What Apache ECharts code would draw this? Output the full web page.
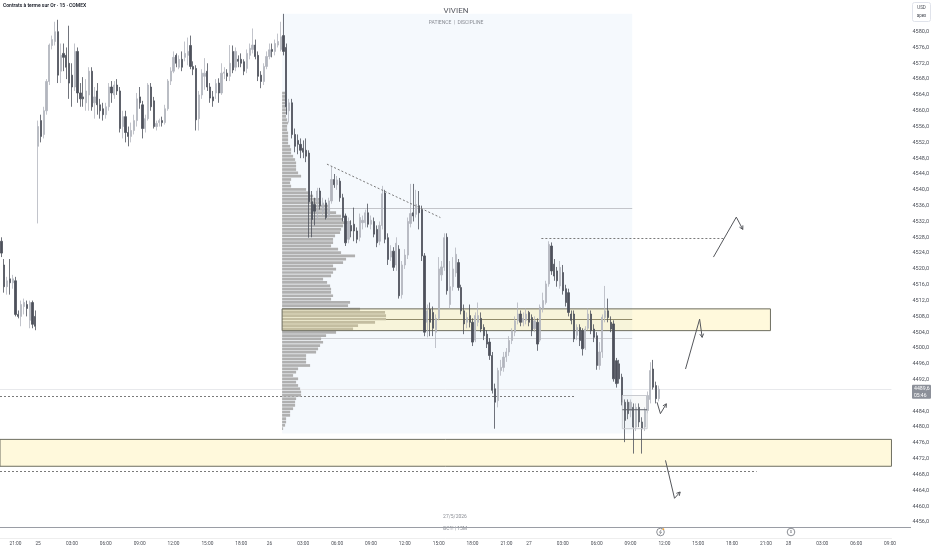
<!DOCTYPE html>
<html><head><meta charset="utf-8">
<script src="https://cdn.jsdelivr.net/npm/echarts@6/dist/echarts.min.js"></script>
<style>html,body{margin:0;padding:0;background:#fff}#c{width:932px;height:550px}</style>
</head><body><div id="c"></div>
<script>
// ---- time axis: trading sessions [day, startHour, startMinute, number of 15-min bars]
const sessions = [['22',19,45,13],['25',0,0,82],['26',0,0,92],['27',0,0,92],['28',0,0,37]];

// ---- candles [open, high, low, close]
const fri22 = [
[4527,4528,4523,4524],[4521,4522.5,4514,4515.5],[4515.5,4518,4513.5,4517],[4517.5,4522.5,4513.5,4516.5],
[4516.5,4518.5,4515,4517.5],[4517,4518,4508,4508.5],[4508.5,4509.5,4507.5,4508],[4508,4512,4505.5,4511],
[4510.5,4512.5,4508.5,4511.5],[4511,4512,4508,4510],[4507,4512,4505,4511.5],[4511.5,4512,4505,4506],
[4508,4509.5,4504.5,4505.5]];
const mon25 = [
[4551,4557.5,4531.5,4556],[4557.5,4559,4552,4553.5],[4554,4561,4553,4560],[4560,4568,4559,4567.4],
[4567.4,4577,4566.5,4576.6],[4576.5,4579,4575.5,4578],[4577.5,4582.5,4576.5,4580],[4580,4583,4567,4569],
[4570,4577,4567,4574],[4574.5,4577,4570,4573.5],[4574,4576,4568,4571],[4572,4581.5,4563,4567],
[4569,4572,4561,4566],[4566,4577,4565,4575],[4575,4576,4562,4564.5],[4564.5,4567,4561,4563],
[4563.5,4568.5,4561,4563],[4562,4568,4560,4565],[4564,4571,4560,4570],[4570,4571,4560,4561],
[4562,4566,4558,4563.5],[4565,4567,4559,4561.5],[4561.5,4563,4558,4560],[4560.5,4562,4557.5,4559],
[4559,4562,4558,4561],[4561,4567,4560,4566],[4566,4567.5,4562,4564.5],[4564,4567.5,4563,4566.5],
[4566.5,4568,4564,4565],[4565,4566,4554.5,4555.5],[4556,4560,4553,4558.5],[4558.5,4560,4552,4554.5],
[4554.5,4556,4551,4553.5],[4553.5,4557,4552,4555],[4555,4559,4554,4557.5],[4557.5,4564.5,4556,4563],
[4563.5,4566,4560.5,4562],[4561.5,4562.5,4553,4555.5],[4555.5,4559,4554.5,4558],[4558,4567,4557.5,4566.5],
[4566,4567,4560,4561],[4562.5,4563.5,4555.5,4556],[4556,4557.5,4555,4556.8],[4557,4558,4556,4557.5],
[4557.5,4558.5,4556,4557],[4557,4561.5,4556.5,4560.5],[4560.5,4568,4560,4567.5],[4567.5,4571,4566.5,4570],
[4570,4575,4569.5,4573.5],[4574,4574.5,4571,4572],[4571,4574,4570.5,4573],[4573,4575,4570,4571],
[4573.5,4577.5,4572.5,4574.5],[4574,4578.5,4571.5,4575],[4576.5,4579,4570.5,4571.2],[4571.2,4572.5,4569,4570.5],
[4570.7,4571.5,4555,4557.7],[4558,4565,4555,4564],[4564,4570.5,4563,4569.5],[4568.7,4573.3,4565.3,4569.5],
[4570,4572,4565,4566],[4566,4567,4562,4563.2],[4563.5,4565,4561,4562.5],[4564.5,4568,4563,4566.9],
[4567,4568.2,4562,4564.5],[4564.5,4572,4564,4569.5],[4569.5,4571,4568,4569.8],[4569.5,4570.5,4567.5,4568.7],
[4568.7,4576.6,4567.5,4572],[4575,4576.5,4569.5,4570.3],[4571,4576,4570,4575],[4573,4574,4571,4572.5],
[4573,4574.5,4571,4572],[4572.4,4573,4569,4570],[4570.7,4575.5,4569.5,4574.5],[4574,4577,4573,4575.8],
[4575.5,4580.8,4574.5,4576.6],[4576.6,4578,4573,4573.7],[4574,4575,4567.5,4568.7],[4569,4570,4565.7,4567.4],
[4567.4,4572,4566.5,4571.2],[4571.2,4575,4570.5,4573.7]];
const tue26 = [
[4573.7,4577,4573,4575.4],[4575.5,4577,4573.5,4575],[4575,4578,4574,4577],[4576.6,4579.5,4576,4577.5],
[4575.5,4582.5,4575,4578.7],[4579,4584.5,4574,4575],[4576,4577,4559,4561],[4560,4563,4557,4562],
[4562,4563,4553,4554],[4554,4555.5,4549.5,4551],[4552.5,4554,4549,4551.5],[4551.5,4553,4548,4550],
[4550.5,4552.5,4548,4549.5],[4550,4553,4547,4548.5],[4549.3,4550,4527.9,4537],[4537,4539.7,4528,4532.5],
[4536.3,4538,4531,4534.6],[4537.2,4540.5,4532.5,4539.7],[4539.7,4540.5,4535,4536],[4534.6,4538,4533.5,4536.7],
[4536.7,4537.5,4532.5,4533],[4533.5,4538,4533,4537.2],[4537.2,4546,4536.5,4542.6],[4542.6,4544,4540.5,4541.3],
[4541.3,4543.5,4540,4542.5],[4542.2,4543,4537,4538],[4538,4539,4532,4533],[4533.4,4534,4525.8,4526.6],
[4527.5,4533,4526.5,4532],[4531,4532.3,4528,4529.6],[4531.3,4535.5,4527,4529.6],[4529.6,4530.5,4526.5,4527.5],
[4528,4534,4527,4533],[4531.7,4533.5,4530,4532.3],[4531.7,4535,4530.5,4534.2],[4534.2,4536.5,4530.5,4531.3],
[4531.3,4533.5,4530,4532.3],[4532,4533,4528,4528.8],[4530,4531,4525.5,4526.6],[4527,4532,4526,4531],
[4531,4541,4530,4539],[4539.2,4540,4526.5,4527.5],[4527.9,4529,4521,4522.4],[4523,4526,4522,4524.5],
[4524.5,4525.5,4519.5,4520.4],[4521,4528,4519.5,4526.5],[4525,4526,4512.5,4513.2],[4513.5,4522,4512.5,4521],
[4521,4525,4520,4523.5],[4523.5,4533,4522.5,4532],[4531.5,4541.5,4530.5,4534],[4534.2,4541.5,4532,4533.4],
[4533.8,4540,4533,4536.3],[4536,4539.7,4530,4534.2],[4535,4536,4522,4523.3],[4523.3,4524,4503,4504],
[4506.5,4511,4502.7,4509.4],[4509.8,4511.5,4503,4506.5],[4509,4510.5,4503,4505],[4504,4508.5,4500,4507.5],
[4507.5,4523,4507,4520],[4518.5,4522,4517,4520.5],[4520.4,4529,4519.5,4527.9],[4528,4529,4513.5,4514.5],
[4511,4522,4510,4515.5],[4515.5,4523,4514.5,4520],[4519,4525.4,4518,4523.7],[4521.6,4522.5,4514.5,4515.3],
[4515.3,4516,4508.5,4509.4],[4509.4,4511,4503.5,4506.1],[4506.5,4509,4505,4507.7],[4508.2,4511,4505.2,4506.5],
[4506.5,4507.5,4500.5,4501.5],[4502,4509,4501.5,4508.2],[4506.5,4511.5,4505.5,4508.2],[4507.5,4509,4504,4504.8],
[4505.2,4506,4502,4503.1],[4503.5,4504.5,4500,4501],[4501.5,4502.5,4497,4498.1],[4498.1,4499,4488.5,4489.3],
[4489.7,4491,4479.6,4486.3],[4486.7,4495,4485,4494.3],[4494.3,4497,4493,4495.1],[4495.1,4499,4494,4497.7],
[4497.7,4500,4496.5,4499],[4499,4503,4498,4501.9],[4501.9,4505,4501,4504.4],[4504,4508,4503,4506.9],
[4506.9,4511.5,4506,4508.6],[4508.6,4509.5,4505.5,4506.5],[4506.5,4509,4505.5,4507.5],[4507,4510,4506,4508.6]];
const wed27 = [
[4509,4509.4,4505.5,4506.5],[4507.7,4508.5,4503,4504.4],[4504.9,4508,4504,4506.9],[4506.5,4507.5,4499.3,4501],
[4502,4511,4501.5,4510.3],[4510,4514,4509,4512],[4511.5,4517,4511,4516.2],[4516.2,4527,4515.5,4526.2],
[4525.8,4526.7,4518.5,4519.5],[4521.2,4522.5,4517,4518.2],[4519.5,4520.5,4515.5,4517],[4515.7,4522,4515,4520.4],
[4519.1,4521,4513.5,4514.5],[4515,4516,4510.5,4511.5],[4514,4515,4508,4509],[4508.6,4509.5,4506,4507],
[4508.6,4509.5,4501.5,4502.3],[4503.2,4506,4502,4505.2],[4505.2,4506,4500.5,4501.9],[4504.4,4505,4498.1,4499.8],
[4500,4505.5,4499.5,4504.8],[4505,4510,4504.5,4508.6],[4508.6,4509.5,4503.5,4504.4],[4504.8,4506,4501.5,4502.7],
[4503.1,4504,4494.5,4495.6],[4495.6,4501.5,4494.5,4499],[4499,4508.5,4497.5,4507.8],[4507.7,4515.7,4506.5,4509.4],
[4509.4,4512.5,4506.5,4507.7],[4506.5,4508,4504,4504.8],[4506.1,4507,4491.5,4492.2],[4496.8,4497.5,4490,4491],
[4496,4497,4491,4492.2],[4492.6,4493.5,4485.5,4486.3],[4486.3,4487,4476.2,4481.7],[4486.3,4487,4482,4483.4],
[4484.2,4487,4482.5,4486.3],[4485,4486,4473.3,4480],[4480,4486,4479,4485],[4485,4486,4480,4481.3],
[4481.3,4482.5,4473.3,4479.6],[4480,4485,4479,4484.2],[4484.2,4489,4483.5,4488],[4487,4496.4,4486,4494.3],
[4494.7,4497,4489.5,4490.1],[4490.5,4491.5,4486,4487.2],[4487.2,4490.5,4486.5,4489.6]];

// ---- fixed range volume profile (rows from top, price step 0.84)
const profileTopPrice = 4564.46;
const profileStep = 0.84;
const profileVolumes = [3,4,4,3,4,5,5,4,5,6,5,5,6,6,6,
6,8,9,9,11,13,14,14,14,16,19,9,8,9,24,28,31,38,39,46,
48,54,59,61,69,61,59,58,53,51,51,49,56,59,73,64,61,51,54,51,
49,41,45,48,49,49,51,49,68,66,78,103,104,104,93,76,71,54,44,39,
41,38,36,34,24,24,24,28,16,14,11,16,14,16,18,19,19,14,13,13,
11,8,8,4,4,3,1];
const profileLevels = [4535.4, 4507.3, 4502.6];   // VAH, POC, VAL

// ---- drawings in (bar index, price)
const rangeZone = [99.5, 223.6, 4584.5, 4478.4];
const yellowZones = [[99.5, 272.6, 4509.9, 4504.4], [-0.5, 315.5, 4476.9, 4470.1]];
const dashedLevels = [[-0.5, 203.2, 4487.9], [-0.5, 267.7, 4468.9], [191.4, 256, 4527.9]];
const trendLine = [[115.4, 4546.5], [155.6, 4533.0]];
const arrows = [
 [[252.4,4523.0],[260.5,4533.1],[262.8,4530.0]],
 [[242.5,4494.7],[247.5,4507.3],[248.4,4502.7]],
 [[232.4,4486.3],[233.6,4483.4],[235.7,4485.9]],
 [[235.4,4471.6],[238.6,4462.0],[240.6,4463.6]]];
const positionBox = [220.1, 228.9, 4488.0, 4479.6, 4484.4];
const lastPrice = 4489.6, countdown = '05:46';

// ---- build
const categories = [];
sessions.forEach(([d,h,m,n]) => {
  for (let k = 0; k < n; k++) {
    const t = h*60 + m + 15*k;
    categories.push(d + ' ' + String(Math.floor(t/60)).padStart(2,'0') + ':' + String(t%60).padStart(2,'0'));
  }
});
const ohlc = [].concat(fri22, mon25, tue26, wed27);
const candleData = ohlc.map(c => [c[0], c[3], c[2], c[1]]);
const N = categories.length;
const PROFILE_X0 = 99.5;
const VOL_TO_IDX = 1 / 2.8228;

const chart = echarts.init(document.getElementById('c'), null, {renderer: 'canvas'});
const FONT = 'Roboto, "Noto Sans", sans-serif';

function rectItem(api, x0, p0, x1, p1, style) {
  const a = api.coord([x0, p0]), b = api.coord([x1, p1]);
  return {type: 'rect', shape: {x: a[0], y: a[1], width: b[0]-a[0], height: b[1]-a[1]}, style};
}

const option = {
  animation: false,
  backgroundColor: '#ffffff',
  grid: {left: 0, right: 40, top: -1.74, height: 539.6},
  xAxis: [{
    type: 'category', data: categories, boundaryGap: true,
    axisLine: {show: true, lineStyle: {color: '#eeeeee'}},
    axisTick: {show: false}, splitLine: {show: false},
    axisLabel: {
      color: '#4a4d55', fontSize: 4.8, fontFamily: FONT, margin: 3.5,
      interval: (i, v) => { const H = +v.slice(3,5), M = +v.slice(6,8); return M === 0 && H % 3 === 0; },
      formatter: v => v.slice(3) === '00:00' ? v.slice(0,2) : v.slice(3)
    }
  }, {
    type: 'value', min: -0.5, max: N - 0.5, show: false
  }],
  yAxis: [{
    type: 'value', position: 'right', min: 4452, max: 4588, interval: 4,
    axisLine: {show: false}, axisTick: {show: false}, splitLine: {show: false},
    axisLabel: {
      color: '#4b4f58', fontSize: 5.5, fontFamily: FONT, margin: 21,
      formatter: v => (v > 4580 || v < 4456 || v === 4488) ? '' : v.toFixed(1).replace('.', ',')
    }
  }],
  series: [
    { // fixed-range background
      type: 'custom', xAxisIndex: 1, yAxisIndex: 0, z: 1, silent: true,
      data: [rangeZone],
      renderItem: (p, api) => rectItem(api, api.value(0), api.value(2), api.value(1), api.value(3), {fill: '#f5f9fd'})
    },
    { // profile level lines + dashed levels + current price line
      type: 'custom', xAxisIndex: 1, yAxisIndex: 0, z: 2, silent: true,
      data: [
        ...profileLevels.map(p => [PROFILE_X0, p, 223.6]),
        ...dashedLevels.map(d => [d[0], d[2], d[1]]),
        [-0.5, lastPrice, N - 0.5]
      ],
      renderItem: (params, api) => {
        const a = api.coord([api.value(0), api.value(1)]), b = api.coord([api.value(2), api.value(1)]);
        const kind = params.dataIndex < 3 ? ['vah','poc','val'][params.dataIndex] : (params.dataIndex < 6 ? 'dash' : 'last');
        const styles = {
          vah: {stroke: '#c3c5ca', lineWidth: 1},
          poc: {stroke: '#6f6f6a', lineWidth: 1},
          val: {stroke: '#cfd1d6', lineWidth: 1},
          dash: {stroke: '#7a7a7a', lineWidth: 1, lineDash: [2, 2]},
          last: {stroke: '#e8e9ec', lineWidth: 1}
        };
        const y = Math.round(a[1]) + 0.5;
        return {type: 'line', shape: {x1: a[0], y1: y, x2: b[0], y2: y}, style: styles[kind]};
      }
    },
    { // volume profile
      type: 'custom', xAxisIndex: 1, yAxisIndex: 0, z: 3, silent: true,
      data: profileVolumes.map((v, k) => [PROFILE_X0 + v * VOL_TO_IDX, profileTopPrice - k * profileStep]),
      renderItem: (params, api) => {
        const price = api.value(1);
        const a = api.coord([PROFILE_X0, price + profileStep/2]);
        const b = api.coord([api.value(0), price - profileStep/2]);
        return {type: 'rect', shape: {x: a[0], y: a[1] + 0.3, width: b[0]-a[0], height: b[1]-a[1]-0.6},
                style: {fill: '#b0b0b0'}};
      }
    },
    { // yellow zones
      type: 'custom', xAxisIndex: 1, yAxisIndex: 0, z: 4, silent: true,
      data: yellowZones,
      renderItem: (p, api) => rectItem(api, api.value(0), api.value(2), api.value(1), api.value(3),
        {fill: 'rgba(255,232,110,0.24)', stroke: '#6e6e60', lineWidth: 1})
    },
    { // candles
      type: 'candlestick', xAxisIndex: 0, yAxisIndex: 0, z: 5,
      data: candleData, barWidth: 1.7,
      itemStyle: {color: '#b2b5be', color0: '#4d505b', borderColor: '#b2b5be', borderColor0: '#4d505b', borderWidth: 0.8}
    },
    { // drawings: trend line, position box, arrows
      type: 'custom', xAxisIndex: 1, yAxisIndex: 0, z: 6, silent: true,
      data: [[trendLine[0][0], trendLine[0][1]], [positionBox[0], positionBox[2]], ...arrows.map(a => a[0])],
      renderItem: (params, api) => {
        const i = params.dataIndex;
        if (i === 0) {
          const a = api.coord(trendLine[0]), b = api.coord(trendLine[1]);
          return {type: 'line', shape: {x1: a[0], y1: a[1], x2: b[0], y2: b[1]}, style: {stroke: '#7a7a7a', lineWidth: 1, lineDash: [2, 2]}};
        }
        if (i === 1) {
          const [x0, x1, pt, pb, pm] = positionBox;
          const a = api.coord([x0, pt]), b = api.coord([x1, pb]), m = api.coord([x1, pm]);
          return {type: 'group', children: [
            {type: 'rect', shape: {x: a[0], y: a[1], width: b[0]-a[0], height: b[1]-a[1]}, style: {fill: 'rgba(200,202,208,0.12)', stroke: '#c9cbd0', lineWidth: 1}},
            {type: 'line', shape: {x1: a[0], y1: m[1], x2: b[0], y2: m[1]}, style: {stroke: '#5d6068', lineWidth: 1}}
          ]};
        }
        const pts = arrows[i - 2].map(p => api.coord(p));
        const n = pts.length, e = pts[n-1], s = pts[n-2];
        const ang = Math.atan2(e[1]-s[1], e[0]-s[0]), L = 4;
        const h1 = [e[0] - L*Math.cos(ang - 0.5), e[1] - L*Math.sin(ang - 0.5)];
        const h2 = [e[0] - L*Math.cos(ang + 0.5), e[1] - L*Math.sin(ang + 0.5)];
        return {type: 'group', children: [
          {type: 'polyline', shape: {points: pts}, style: {stroke: '#55575c', lineWidth: 1, fill: null}},
          {type: 'polyline', shape: {points: [h1, e, h2]}, style: {stroke: '#55575c', lineWidth: 1, fill: null}}
        ]};
      }
    }
  ]
};
chart.setOption(option);

const yLast = chart.convertToPixel({yAxisIndex: 0}, lastPrice);
chart.setOption({
  graphic: [
    {type: 'text', left: 3, top: 3, z: 100, style: {text: 'Contrats à terme sur Or · 15 · COMEX', fontSize: 5, fontWeight: 600, fill: '#131722', fontFamily: FONT}},
    {type: 'text', x: 456, y: 11, z: 100, style: {text: 'VIVIEN', fontSize: 8, fill: '#555861', fontFamily: FONT, align: 'center', verticalAlign: 'middle'}},
    {type: 'text', x: 456, y: 23, z: 100, style: {text: 'PATIENCE  |  DISCIPLINE', fontSize: 5, fill: '#8a8d94', fontFamily: FONT, align: 'center', verticalAlign: 'middle'}},
    {type: 'rect', z: 100, shape: {x: 912.5, y: 2.5, width: 18, height: 19, r: 2}, style: {fill: '#fff', stroke: '#e0e3eb', lineWidth: 1}},
    {type: 'text', x: 921.5, y: 8, z: 101, style: {text: 'USD', fontSize: 4.5, fill: '#4b4f58', fontFamily: FONT, align: 'center', verticalAlign: 'middle'}},
    {type: 'text', x: 921.5, y: 16, z: 101, style: {text: 'apex', fontSize: 4.5, fill: '#4b4f58', fontFamily: FONT, align: 'center', verticalAlign: 'middle'}},
    {type: 'rect', z: 100, shape: {x: 912, y: yLast - 4.5, width: 19, height: 14, r: 1}, style: {fill: '#8c9099'}},
    {type: 'text', x: 914, y: yLast, z: 101, style: {text: '4489,6', fontSize: 5.2, fill: '#ffffff', fontFamily: FONT, verticalAlign: 'middle'}},
    {type: 'text', x: 914, y: yLast + 6.3, z: 101, style: {text: countdown, fontSize: 5, fill: '#ffffff', fontFamily: FONT, verticalAlign: 'middle'}},
    {type: 'line', z: 50, shape: {x1: 0, y1: 527.5, x2: 911, y2: 527.5}, style: {stroke: '#9a9da5', lineWidth: 1}},
    {type: 'text', x: 455, y: 517, z: 100, style: {text: '27/5/2026', fontSize: 5, fill: '#8a8d94', fontFamily: FONT, align: 'center', verticalAlign: 'middle'}},
    {type: 'text', x: 455, y: 528.5, z: 49, style: {text: 'GC1! | 15M', fontSize: 5, fill: '#8a8d94', fontFamily: FONT, align: 'center', verticalAlign: 'middle'}},
    {type: 'circle', z: 100, shape: {cx: 660.5, cy: 532, r: 3.8}, style: {fill: '#fff', stroke: '#6f727a', lineWidth: 0.8}},
    {type: 'polyline', z: 101, shape: {points: [[661.3,529.6],[659.5,532.3],[661.5,532.1],[659.7,534.5]]}, style: {stroke: '#6f727a', lineWidth: 0.7, fill: null}},
    {type: 'circle', z: 101, shape: {cx: 663.4, cy: 529.2, r: 0.9}, style: {fill: '#f0a030'}},
    {type: 'circle', z: 100, shape: {cx: 791, cy: 532, r: 3.8}, style: {fill: '#fff', stroke: '#6f727a', lineWidth: 0.8}},
    {type: 'text', x: 791, y: 532.2, z: 101, style: {text: 'D', fontSize: 3.8, fill: '#6f727a', fontFamily: FONT, align: 'center', verticalAlign: 'middle'}}
  ]
});
</script></body></html>
